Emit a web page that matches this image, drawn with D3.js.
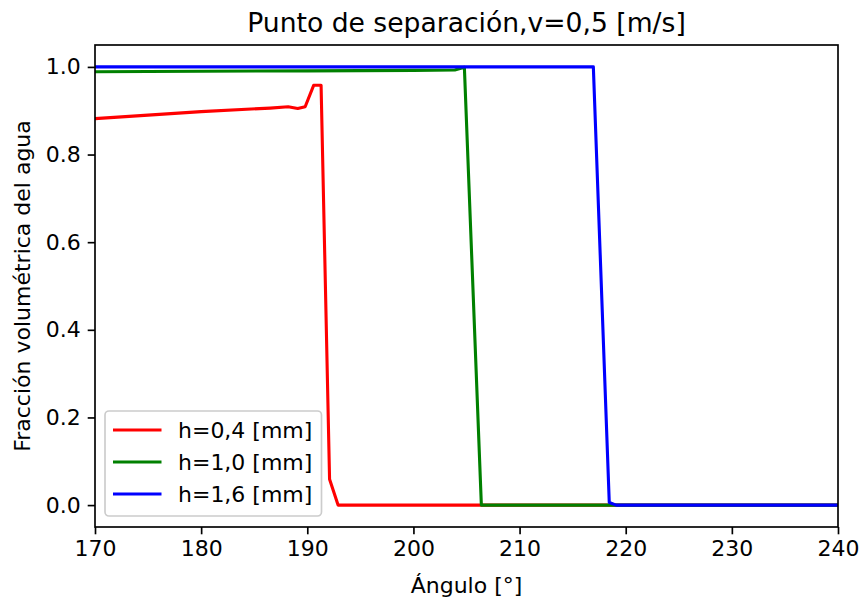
<!DOCTYPE html>
<html>
<head>
<meta charset="utf-8">
<script src="https://cdn.jsdelivr.net/npm/d3@7"></script>
<style>
body { margin: 0; background: #fff; }
svg text { font-family: "DejaVu Sans", sans-serif; fill: #000; }
</style>
</head>
<body>
<div id="chart"></div>
<script>
// data
const seriesLabels = ["h=0,4 [mm]", "h=1,0 [mm]", "h=1,6 [mm]"];
const seriesColors = ["#ff0000", "#008000", "#0000ff"];

const redAngle = [170, 175, 180, 186.5, 188.2, 189.1, 189.8, 190.6, 191.3, 192.1, 192.9, 200, 210, 220, 230, 240];
const redValue = [0.882, 0.890, 0.898, 0.906, 0.909, 0.905, 0.909, 0.958, 0.958, 0.059, 0.0, 0.0, 0.0, 0.0, 0.0, 0.0];

const greenAngle = [170, 180, 190, 200, 203.9, 204.8, 206.4, 210, 220, 230, 240];
const greenValue = [0.989, 0.990, 0.991, 0.992, 0.993, 0.999, 0.0, 0.0, 0.0, 0.0, 0.0];

const blueAngle = [170, 180, 190, 200, 210, 216.95, 218.45, 219.1, 225, 230, 240];
const blueValue = [1.0, 1.0, 1.0, 1.0, 1.0, 1.0, 0.006, 0.0, 0.0, 0.0, 0.0];

const xTicks = [170, 180, 190, 200, 210, 220, 230, 240];
const yTicks = [0.0, 0.2, 0.4, 0.6, 0.8, 1.0];

const W = 861, H = 599;
const margin = { top: 45, right: 23, bottom: 72, left: 95 };
const width = W - margin.left - margin.right;
const height = H - margin.top - margin.bottom;
const fs = 22; // tick / label font

const svg = d3.select("#chart").append("svg")
	.attr("width", W).attr("height", H);

const g = svg.append("g")
	.attr("transform", `translate(${margin.left},${margin.top})`);

const x = d3.scaleLinear().domain([170, 240]).range([0, width]);
const y = d3.scaleLinear().domain([-0.05, 1.05]).range([height, 0]);

const series = [
	{ xs: redAngle, ys: redValue },
	{ xs: greenAngle, ys: greenValue },
	{ xs: blueAngle, ys: blueValue }
];

g.append("clipPath").attr("id", "clip")
	.append("rect").attr("width", width).attr("height", height);

const line = d3.line().x(d => x(d[0])).y(d => y(d[1]));

series.forEach((s, i) => {
	g.append("path")
		.datum(s.xs.map((a, j) => [a, s.ys[j]]))
		.attr("clip-path", "url(#clip)")
		.attr("fill", "none")
		.attr("stroke", seriesColors[i])
		.attr("stroke-width", 3.1)
		.attr("stroke-linejoin", "round")
		.attr("d", line);
});

// axes
const xAxis = g.append("g")
	.attr("transform", `translate(0,${height})`)
	.call(d3.axisBottom(x).tickValues(xTicks).tickFormat(d3.format("d")).tickSizeOuter(0).tickSize(7.3).tickPadding(6));
const yAxis = g.append("g")
	.call(d3.axisLeft(y).tickValues(yTicks).tickFormat(d3.format(".1f")).tickSizeOuter(0).tickSize(7.3).tickPadding(7));

[xAxis, yAxis].forEach(a => {
	a.selectAll("text").style("font-size", fs + "px");
	a.selectAll("line").attr("stroke-width", 1.67);
	a.select(".domain").remove();
});

g.append("rect")
	.attr("width", width).attr("height", height)
	.attr("fill", "none").attr("stroke", "#000").attr("stroke-width", 1.67);

// title and labels
svg.append("text")
	.attr("x", margin.left + width / 2).attr("y", 32)
	.attr("text-anchor", "middle")
	.style("font-size", "26.6px")
	.text("Punto de separación,v=0,5 [m/s]");

svg.append("text")
	.attr("x", margin.left + width / 2).attr("y", 593)
	.attr("text-anchor", "middle")
	.style("font-size", fs + "px")
	.text("Ángulo [°]");

svg.append("text")
	.attr("transform", `translate(30,${margin.top + height / 2}) rotate(-90)`)
	.attr("text-anchor", "middle")
	.style("font-size", fs + "px")
	.text("Fracción volumétrica del agua");

// legend
const leg = g.append("g").attr("transform", "translate(10,366)");
leg.append("rect")
	.attr("width", 216.5).attr("height", 105).attr("rx", 4)
	.attr("fill", "#fff").attr("fill-opacity", 0.8)
	.attr("stroke", "#cccccc").attr("stroke-width", 1.67);

seriesLabels.forEach((lab, i) => {
	const yy = 19 + i * 32;
	leg.append("line")
		.attr("x1", 8).attr("x2", 56.5).attr("y1", yy).attr("y2", yy)
		.attr("stroke", seriesColors[i]).attr("stroke-width", 3.1);
	leg.append("text")
		.attr("x", 73).attr("y", yy + 8)
		.style("font-size", fs + "px")
		.text(lab);
});
</script>
</body>
</html>
